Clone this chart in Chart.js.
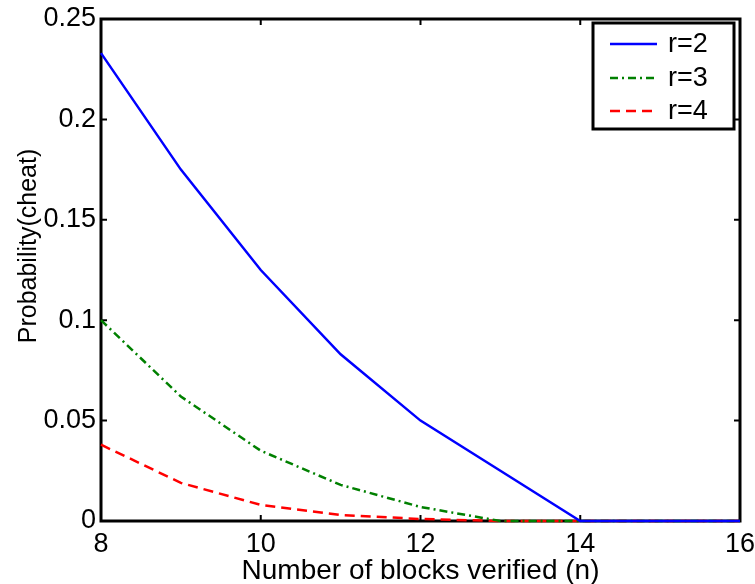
<!DOCTYPE html>
<html>
<head>
<meta charset="utf-8">
<script src="https://cdn.jsdelivr.net/npm/chart.js@4.4.0/dist/chart.umd.min.js"></script>
<style>
  html, body { margin: 0; padding: 0; background: #fff; }
  #wrap { width: 755px; height: 584px; }
</style>
</head>
<body>
<div id="wrap"><canvas id="mycanvas" width="755" height="584"></canvas></div>
<script>
// number of blocks verified
var blocks = [8, 9, 10, 11, 12, 13, 14, 15, 16];
// probability of cheating for r = 2, 3, 4
var probR2 = [0.233, 0.175, 0.125, 0.083, 0.050, 0.025, 0, 0, 0];
var probR3 = [0.100, 0.062, 0.035, 0.018, 0.007, 0, 0, 0, 0];
var probR4 = [0.038, 0.019, 0.008, 0.003, 0.001, 0, 0, 0, 0];
var seriesLabels = ["r=2", "r=3", "r=4"];
var xTicks = [8, 10, 12, 14, 16];
var yTicks = [0, 0.05, 0.1, 0.15, 0.2, 0.25];
var xTitle = 'Number of blocks verified (n)';
var yTitle = 'Probability(cheat)';

var fontFamily = "'Liberation Sans', Arial, Helvetica, sans-serif";

function toPoints(ys) {
    var pts = [];
    for (var i in blocks) {
        pts.push({x: blocks[i], y: ys[i]});
    }
    return pts;
}

// box around the plot with inward tick marks (matlab style)
var boxPlugin = {
    id: 'boxPlugin',
    beforeDatasetsDraw: function(chart) {
        var ctx = chart.ctx;
        var a = chart.chartArea;
        var xs = chart.scales.x, ys = chart.scales.y;
        ctx.save();
        ctx.strokeStyle = '#000';
        ctx.lineWidth = 3;
        ctx.strokeRect(a.left, a.top, a.right - a.left, a.bottom - a.top);
        ctx.lineWidth = 2;
        ctx.beginPath();
        for (var i in xTicks) {
            var px = xs.getPixelForValue(xTicks[i]);
            ctx.moveTo(px, a.bottom); ctx.lineTo(px, a.bottom - 6);
            ctx.moveTo(px, a.top); ctx.lineTo(px, a.top + 6);
        }
        for (var j in yTicks) {
            var py = ys.getPixelForValue(yTicks[j]);
            ctx.moveTo(a.left, py); ctx.lineTo(a.left + 6, py);
            ctx.moveTo(a.right, py); ctx.lineTo(a.right - 6, py);
        }
        ctx.stroke();

        // axis titles
        ctx.fillStyle = '#000';
        ctx.font = '28px ' + fontFamily;
        ctx.textAlign = 'center';
        ctx.textBaseline = 'alphabetic';
        ctx.fillText(xTitle, (a.left + a.right) / 2, 579);
        ctx.translate(36, 246);
        ctx.rotate(-Math.PI / 2);
        ctx.font = '25px ' + fontFamily;
        ctx.fillText(yTitle, 0, 0);
        ctx.restore();
    },
    afterDatasetsDraw: function(chart) {
        // legend box, top right inside the plot
        var ctx = chart.ctx;
        var a = chart.chartArea;
        var bx = a.right - 147, by = a.top + 4, bw = 141, bh = 106;
        ctx.save();
        ctx.fillStyle = '#fff';
        ctx.fillRect(bx, by, bw, bh);
        ctx.strokeStyle = '#000';
        ctx.lineWidth = 3;
        ctx.strokeRect(bx, by, bw, bh);
        ctx.font = '27px ' + fontFamily;
        ctx.textBaseline = 'middle';
        var rows = [by + 21, by + 55, by + 88];
        chart.data.datasets.forEach(function(ds, k) {
            ctx.strokeStyle = ds.borderColor;
            ctx.lineWidth = ds.borderWidth;
            ctx.setLineDash(ds.borderDash || []);
            ctx.beginPath();
            ctx.moveTo(bx + 17, rows[k]);
            ctx.lineTo(bx + 64, rows[k]);
            ctx.stroke();
            ctx.setLineDash([]);
            ctx.fillStyle = '#000';
            ctx.fillText(ds.label, bx + 75, rows[k] + 1);
        });
        ctx.restore();
    }
};

var chartdata = {
    datasets: [
        {
            label: seriesLabels[0],
            data: toPoints(probR2),
            borderColor: "#0000FF",
            borderWidth: 2.5,
            pointRadius: 0,
            tension: 0,
            clip: 4
        },
        {
            label: seriesLabels[1],
            data: toPoints(probR3),
            borderColor: "#008000",
            borderWidth: 2.5,
            borderDash: [8, 4, 2, 4],
            pointRadius: 0,
            tension: 0,
            clip: 4
        },
        {
            label: seriesLabels[2],
            data: toPoints(probR4),
            borderColor: "#FF0000",
            borderWidth: 2.5,
            borderDash: [10, 6],
            pointRadius: 0,
            tension: 0,
            clip: 4
        }
    ]
};

var ctx = document.getElementById('mycanvas');
var myLineChart = new Chart(ctx, {
    type: 'line',
    data: chartdata,
    options: {
        responsive: false,
        animation: false,
        layout: { padding: { left: 0, right: 15, top: 19, bottom: 0 } },
        plugins: {
            legend: { display: false },
            tooltip: { enabled: false }
        },
        scales: {
            x: {
                type: 'linear',
                min: 8,
                max: 16,
                grid: { display: false, drawTicks: false },
                border: { display: false },
                afterFit: function(scale) {
                    scale.height = 63;
                    scale.paddingLeft = 0;
                    scale.paddingRight = 0;
                },
                afterBuildTicks: function(scale) {
                    scale.ticks = xTicks.map(function(v) { return {value: v}; });
                },
                ticks: {
                    color: '#000',
                    padding: 7,
                    maxRotation: 0,
                    font: { family: fontFamily, size: 27 }
                }
            },
            y: {
                min: 0,
                max: 0.25,
                grid: { display: false, drawTicks: false },
                border: { display: false },
                afterFit: function(scale) {
                    scale.width = 101;
                    scale.paddingTop = 0;
                    scale.paddingBottom = 0;
                },
                afterBuildTicks: function(scale) {
                    scale.ticks = yTicks.map(function(v) { return {value: v}; });
                },
                ticks: {
                    color: '#000',
                    padding: 5,
                    font: { family: fontFamily, size: 27 },
                    callback: function(v) { return String(Number(v.toFixed(2))); }
                }
            }
        }
    },
    plugins: [boxPlugin]
});
</script>
</body>
</html>
